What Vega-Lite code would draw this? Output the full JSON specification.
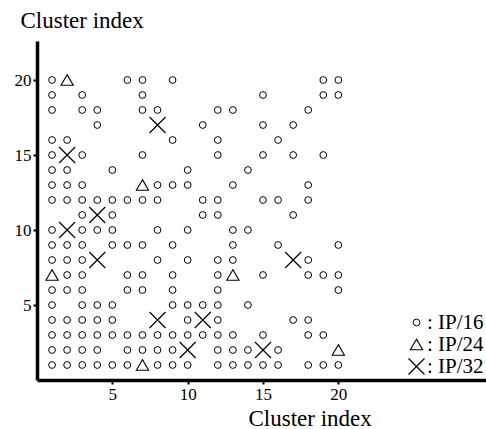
{
  "$schema": "https://vega.github.io/schema/vega-lite/v6.json",
  "width": 449,
  "height": 339,
  "autosize": {"type": "none"},
  "padding": {"left": 37, "top": 41, "right": 0, "bottom": 49},
  "background": "white",
  "config": {
    "view": {"stroke": null},
    "font": "Liberation Serif",
    "axis": {
      "grid": false,
      "domainColor": "black",
      "domainWidth": 3.5,
      "tickColor": "black",
      "tickWidth": 2,
      "tickSize": 4,
      "labelFont": "Liberation Serif",
      "labelFontSize": 17,
      "labelColor": "black",
      "labelPadding": 2,
      "titleFont": "Liberation Serif",
      "titleFontSize": 23,
      "titleFontWeight": "normal",
      "titleColor": "black"
    },
    "legend": {
      "labelFont": "Liberation Serif",
      "labelFontSize": 21,
      "labelColor": "black"
    }
  },
  "data": {
    "values": [
      {"x": 1, "y": 20, "t": "IP/16"}, {"x": 2, "y": 20, "t": "IP/24"}, {"x": 6, "y": 20, "t": "IP/16"}, {"x": 7, "y": 20, "t": "IP/16"}, {"x": 9, "y": 20, "t": "IP/16"}, {"x": 19, "y": 20, "t": "IP/16"}, {"x": 20, "y": 20, "t": "IP/16"},
      {"x": 1, "y": 19, "t": "IP/16"}, {"x": 3, "y": 19, "t": "IP/16"}, {"x": 7, "y": 19, "t": "IP/16"}, {"x": 15, "y": 19, "t": "IP/16"}, {"x": 19, "y": 19, "t": "IP/16"}, {"x": 20, "y": 19, "t": "IP/16"},
      {"x": 1, "y": 18, "t": "IP/16"}, {"x": 3, "y": 18, "t": "IP/16"}, {"x": 4, "y": 18, "t": "IP/16"}, {"x": 7, "y": 18, "t": "IP/16"}, {"x": 8, "y": 18, "t": "IP/16"}, {"x": 12, "y": 18, "t": "IP/16"}, {"x": 13, "y": 18, "t": "IP/16"}, {"x": 18, "y": 18, "t": "IP/16"},
      {"x": 4, "y": 17, "t": "IP/16"}, {"x": 8, "y": 17, "t": "IP/32"}, {"x": 11, "y": 17, "t": "IP/16"}, {"x": 15, "y": 17, "t": "IP/16"}, {"x": 17, "y": 17, "t": "IP/16"},
      {"x": 1, "y": 16, "t": "IP/16"}, {"x": 2, "y": 16, "t": "IP/16"}, {"x": 9, "y": 16, "t": "IP/16"}, {"x": 12, "y": 16, "t": "IP/16"}, {"x": 16, "y": 16, "t": "IP/16"},
      {"x": 1, "y": 15, "t": "IP/16"}, {"x": 2, "y": 15, "t": "IP/32"}, {"x": 3, "y": 15, "t": "IP/16"}, {"x": 7, "y": 15, "t": "IP/16"}, {"x": 12, "y": 15, "t": "IP/16"}, {"x": 15, "y": 15, "t": "IP/16"}, {"x": 17, "y": 15, "t": "IP/16"}, {"x": 19, "y": 15, "t": "IP/16"},
      {"x": 1, "y": 14, "t": "IP/16"}, {"x": 2, "y": 14, "t": "IP/16"}, {"x": 5, "y": 14, "t": "IP/16"}, {"x": 10, "y": 14, "t": "IP/16"}, {"x": 14, "y": 14, "t": "IP/16"},
      {"x": 1, "y": 13, "t": "IP/16"}, {"x": 2, "y": 13, "t": "IP/16"}, {"x": 3, "y": 13, "t": "IP/16"}, {"x": 7, "y": 13, "t": "IP/24"}, {"x": 8, "y": 13, "t": "IP/16"}, {"x": 9, "y": 13, "t": "IP/16"}, {"x": 10, "y": 13, "t": "IP/16"}, {"x": 13, "y": 13, "t": "IP/16"}, {"x": 18, "y": 13, "t": "IP/16"},
      {"x": 1, "y": 12, "t": "IP/16"}, {"x": 2, "y": 12, "t": "IP/16"}, {"x": 3, "y": 12, "t": "IP/16"}, {"x": 4, "y": 12, "t": "IP/16"}, {"x": 5, "y": 12, "t": "IP/16"}, {"x": 6, "y": 12, "t": "IP/16"}, {"x": 7, "y": 12, "t": "IP/16"}, {"x": 8, "y": 12, "t": "IP/16"}, {"x": 11, "y": 12, "t": "IP/16"}, {"x": 12, "y": 12, "t": "IP/16"}, {"x": 15, "y": 12, "t": "IP/16"}, {"x": 16, "y": 12, "t": "IP/16"}, {"x": 18, "y": 12, "t": "IP/16"},
      {"x": 3, "y": 11, "t": "IP/16"}, {"x": 4, "y": 11, "t": "IP/32"}, {"x": 5, "y": 11, "t": "IP/16"}, {"x": 11, "y": 11, "t": "IP/16"}, {"x": 12, "y": 11, "t": "IP/16"}, {"x": 17, "y": 11, "t": "IP/16"},
      {"x": 1, "y": 10, "t": "IP/16"}, {"x": 2, "y": 10, "t": "IP/32"}, {"x": 3, "y": 10, "t": "IP/16"}, {"x": 4, "y": 10, "t": "IP/16"}, {"x": 5, "y": 10, "t": "IP/16"}, {"x": 8, "y": 10, "t": "IP/16"}, {"x": 10, "y": 10, "t": "IP/16"}, {"x": 13, "y": 10, "t": "IP/16"}, {"x": 14, "y": 10, "t": "IP/16"},
      {"x": 1, "y": 9, "t": "IP/16"}, {"x": 2, "y": 9, "t": "IP/16"}, {"x": 3, "y": 9, "t": "IP/16"}, {"x": 5, "y": 9, "t": "IP/16"}, {"x": 6, "y": 9, "t": "IP/16"}, {"x": 7, "y": 9, "t": "IP/16"}, {"x": 9, "y": 9, "t": "IP/16"}, {"x": 13, "y": 9, "t": "IP/16"}, {"x": 16, "y": 9, "t": "IP/16"}, {"x": 20, "y": 9, "t": "IP/16"},
      {"x": 1, "y": 8, "t": "IP/16"}, {"x": 2, "y": 8, "t": "IP/16"}, {"x": 3, "y": 8, "t": "IP/16"}, {"x": 4, "y": 8, "t": "IP/32"}, {"x": 8, "y": 8, "t": "IP/16"}, {"x": 10, "y": 8, "t": "IP/16"}, {"x": 12, "y": 8, "t": "IP/16"}, {"x": 13, "y": 8, "t": "IP/16"}, {"x": 17, "y": 8, "t": "IP/32"}, {"x": 18, "y": 8, "t": "IP/16"},
      {"x": 1, "y": 7, "t": "IP/24"}, {"x": 2, "y": 7, "t": "IP/16"}, {"x": 3, "y": 7, "t": "IP/16"}, {"x": 6, "y": 7, "t": "IP/16"}, {"x": 7, "y": 7, "t": "IP/16"}, {"x": 9, "y": 7, "t": "IP/16"}, {"x": 12, "y": 7, "t": "IP/16"}, {"x": 13, "y": 7, "t": "IP/24"}, {"x": 15, "y": 7, "t": "IP/16"}, {"x": 18, "y": 7, "t": "IP/16"}, {"x": 19, "y": 7, "t": "IP/16"}, {"x": 20, "y": 7, "t": "IP/16"},
      {"x": 1, "y": 6, "t": "IP/16"}, {"x": 2, "y": 6, "t": "IP/16"}, {"x": 3, "y": 6, "t": "IP/16"}, {"x": 6, "y": 6, "t": "IP/16"}, {"x": 7, "y": 6, "t": "IP/16"}, {"x": 9, "y": 6, "t": "IP/16"}, {"x": 12, "y": 6, "t": "IP/16"}, {"x": 20, "y": 6, "t": "IP/16"},
      {"x": 1, "y": 5, "t": "IP/16"}, {"x": 3, "y": 5, "t": "IP/16"}, {"x": 4, "y": 5, "t": "IP/16"}, {"x": 5, "y": 5, "t": "IP/16"}, {"x": 9, "y": 5, "t": "IP/16"}, {"x": 10, "y": 5, "t": "IP/16"}, {"x": 11, "y": 5, "t": "IP/16"}, {"x": 12, "y": 5, "t": "IP/16"}, {"x": 14, "y": 5, "t": "IP/16"},
      {"x": 1, "y": 4, "t": "IP/16"}, {"x": 2, "y": 4, "t": "IP/16"}, {"x": 3, "y": 4, "t": "IP/16"}, {"x": 4, "y": 4, "t": "IP/16"}, {"x": 5, "y": 4, "t": "IP/16"}, {"x": 8, "y": 4, "t": "IP/32"}, {"x": 10, "y": 4, "t": "IP/16"}, {"x": 11, "y": 4, "t": "IP/32"}, {"x": 12, "y": 4, "t": "IP/16"}, {"x": 17, "y": 4, "t": "IP/16"}, {"x": 18, "y": 4, "t": "IP/16"},
      {"x": 1, "y": 3, "t": "IP/16"}, {"x": 2, "y": 3, "t": "IP/16"}, {"x": 3, "y": 3, "t": "IP/16"}, {"x": 4, "y": 3, "t": "IP/16"}, {"x": 5, "y": 3, "t": "IP/16"}, {"x": 6, "y": 3, "t": "IP/16"}, {"x": 7, "y": 3, "t": "IP/16"}, {"x": 8, "y": 3, "t": "IP/16"}, {"x": 9, "y": 3, "t": "IP/16"}, {"x": 10, "y": 3, "t": "IP/16"}, {"x": 11, "y": 3, "t": "IP/16"}, {"x": 12, "y": 3, "t": "IP/16"}, {"x": 13, "y": 3, "t": "IP/16"}, {"x": 15, "y": 3, "t": "IP/16"}, {"x": 18, "y": 3, "t": "IP/16"}, {"x": 19, "y": 3, "t": "IP/16"},
      {"x": 1, "y": 2, "t": "IP/16"}, {"x": 2, "y": 2, "t": "IP/16"}, {"x": 3, "y": 2, "t": "IP/16"}, {"x": 4, "y": 2, "t": "IP/16"}, {"x": 6, "y": 2, "t": "IP/16"}, {"x": 7, "y": 2, "t": "IP/16"}, {"x": 8, "y": 2, "t": "IP/16"}, {"x": 9, "y": 2, "t": "IP/16"}, {"x": 10, "y": 2, "t": "IP/32"}, {"x": 12, "y": 2, "t": "IP/16"}, {"x": 13, "y": 2, "t": "IP/16"}, {"x": 14, "y": 2, "t": "IP/16"}, {"x": 15, "y": 2, "t": "IP/32"}, {"x": 16, "y": 2, "t": "IP/16"}, {"x": 20, "y": 2, "t": "IP/24"},
      {"x": 1, "y": 1, "t": "IP/16"}, {"x": 2, "y": 1, "t": "IP/16"}, {"x": 3, "y": 1, "t": "IP/16"}, {"x": 4, "y": 1, "t": "IP/16"}, {"x": 5, "y": 1, "t": "IP/16"}, {"x": 6, "y": 1, "t": "IP/16"}, {"x": 7, "y": 1, "t": "IP/24"}, {"x": 8, "y": 1, "t": "IP/16"}, {"x": 9, "y": 1, "t": "IP/16"}, {"x": 10, "y": 1, "t": "IP/16"}, {"x": 12, "y": 1, "t": "IP/16"}, {"x": 13, "y": 1, "t": "IP/16"}, {"x": 14, "y": 1, "t": "IP/16"}, {"x": 15, "y": 1, "t": "IP/16"}, {"x": 16, "y": 1, "t": "IP/16"}, {"x": 18, "y": 1, "t": "IP/16"}, {"x": 19, "y": 1, "t": "IP/16"}, {"x": 20, "y": 1, "t": "IP/16"}
    ]
  },
  "mark": {"type": "point", "filled": false, "color": "black", "opacity": 1},
  "encoding": {
    "x": {
      "field": "x", "type": "quantitative",
      "scale": {"domain": [0, 29.8], "nice": false, "zero": false},
      "axis": {"values": [5, 10, 15, 20], "title": "Cluster index", "titleX": 211, "titleY": 45, "titleAlign": "left", "titleBaseline": "alphabetic", "titleAnchor": null}
    },
    "y": {
      "field": "y", "type": "quantitative",
      "scale": {"domain": [0, 22.6], "nice": false, "zero": false},
      "axis": {"values": [5, 10, 15, 20], "title": "Cluster index", "titleAngle": 0, "titleX": -17, "titleY": -14, "titleAlign": "left", "titleBaseline": "alphabetic"}
    },
    "shape": {
      "field": "t", "type": "nominal",
      "scale": {"domain": ["IP/16", "IP/24", "IP/32"], "range": ["circle", "triangle-up", "M-1,-1L1,1M-1,1L1,-1"]},
      "legend": {
        "title": null, "orient": "none", "legendX": 369, "legendY": 271,
        "labelExpr": "': ' + datum.label", "labelOffset": 0, "rowPadding": 0, "padding": 0,
        "symbolStrokeColor": "black", "symbolFillColor": "transparent", "symbolStrokeWidth": 1.2
      }
    },
    "size": {
      "field": "t", "type": "nominal",
      "scale": {"domain": ["IP/16", "IP/24", "IP/32"], "range": [46, 256, 160]}
    },
    "strokeWidth": {
      "field": "t", "type": "nominal",
      "scale": {"domain": ["IP/16", "IP/24", "IP/32"], "range": [1, 1.2, 1.6]},
      "legend": null
    }
  }
}
